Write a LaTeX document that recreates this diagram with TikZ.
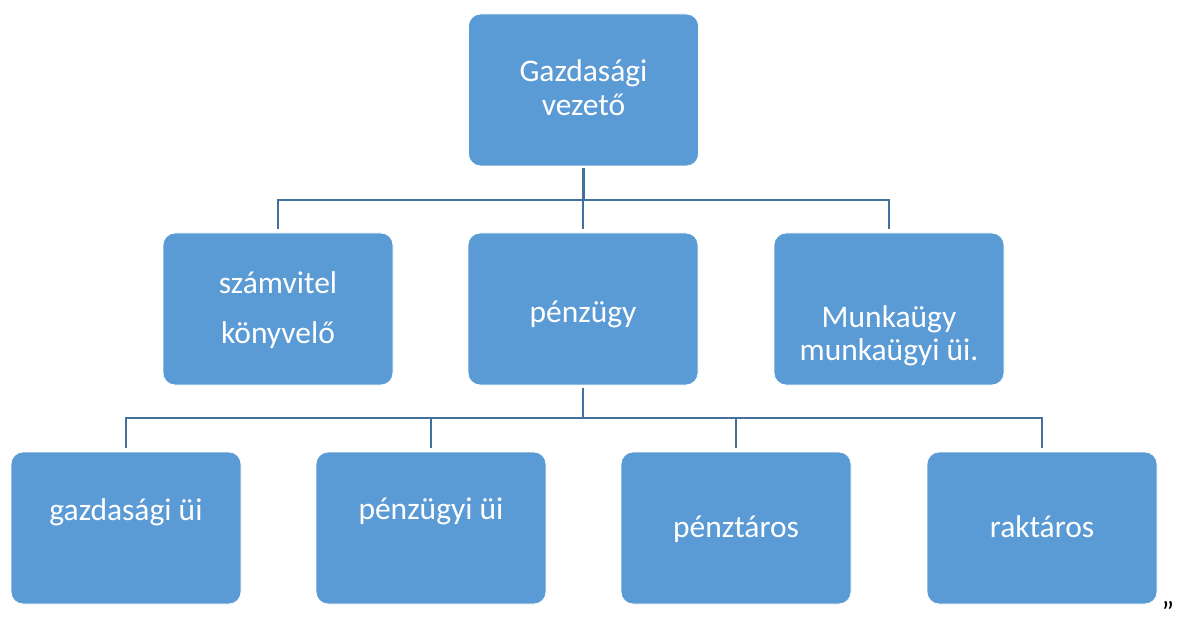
\documentclass[tikz,border=0pt]{standalone}
\usepackage{fontspec}
\setmainfont{Carlito}
\definecolor{boxfill}{HTML}{5B9BD5}
\definecolor{connblue}{HTML}{41719C}
\begin{document}
\begin{tikzpicture}[x=1pt,y=-1pt,
  orgbox/.style={rectangle, rounded corners=12pt, fill=boxfill, draw=white, line width=0.8pt,
    minimum width=230pt, minimum height=152pt, inner sep=0pt, outer sep=0pt},
  lbl/.style={anchor=base, inner sep=0pt, text=white, font=\fontsize{31.5}{34}\selectfont},
  conn/.style={draw=connblue, line width=2.6pt, shorten <=2.5pt, shorten >=4pt}
]
\useasboundingbox (0,0) rectangle (1180,628);
\fill[white] (0,0) rectangle (1180,628);

% boxes
\node[orgbox] (top) at (583.5,90) {};
\node[orgbox] (s1) at (278,309) {};
\node[orgbox] (s2) at (583,309) {};
\node[orgbox] (s3) at (889,309) {};
\node[orgbox] (b1) at (126,528) {};
\node[orgbox] (b2) at (431,528) {};
\node[orgbox] (b3) at (736,528) {};
\node[orgbox] (b4) at (1042,528) {};

% texts
\node[lbl] (ttop1) at (583.5,82) {Gazdasági};
\node[lbl] (ttop2) at (583.5,116) {vezető};
\node[lbl] (ts1a) at (278,293) {számvitel};
\node[lbl] (ts1b) at (278,343) {könyvelő};
\node[lbl] (ts2) at (583,322) {pénzügy};
\node[lbl] (ts3a) at (889,327) {Munkaügy};
\node[lbl] (ts3b) at (889,360) {munkaügyi üi.};
\node[lbl] (tb1) at (126,520) {gazdasági üi};
\node[lbl] (tb2) at (431,519) {pénzügyi üi};
\node[lbl] (tb3) at (736,537) {pénztáros};
\node[lbl] (tb4) at (1042,537) {raktáros};

% connectors
\draw[conn] (top.south) -- ++(0,34) -| (s1.north);
\draw[conn] (top.south) -- ++(0,34) -| (s2.north);
\draw[conn] (top.south) -- ++(0,34) -| (s3.north);
\draw[conn] (s2.south) -- ++(0,33) -| (b1.north);
\draw[conn] (s2.south) -- ++(0,33) -| (b2.north);
\draw[conn] (s2.south) -- ++(0,33) -| (b3.north);
\draw[conn] (s2.south) -- ++(0,33) -| (b4.north);

% stray quote mark
\node[anchor=base, inner sep=0pt, font=\fontsize{30}{30}\selectfont] (quote) at (1168,622) {”};
\end{tikzpicture}
\end{document}
